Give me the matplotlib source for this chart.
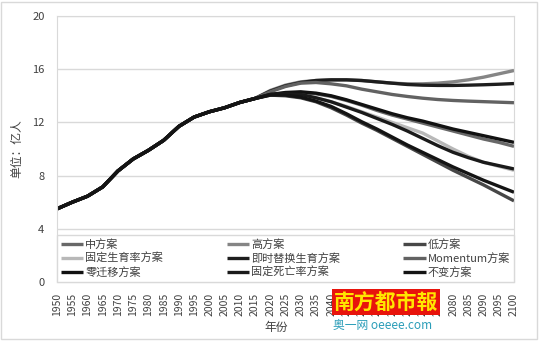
import matplotlib
matplotlib.use('Agg')
import matplotlib.pyplot as plt
from matplotlib.patches import Rectangle

plt.rcParams['font.family'] = ['Noto Sans CJK SC', 'DejaVu Sans']

# years shown on the axis (every 5 years)
years = list(range(1950, 2101, 5))

# shared history 1950-2010 (亿人)
hist = [5.5, 6.0, 6.45, 7.15, 8.35, 9.25, 9.9, 10.65, 11.7, 12.4, 12.8, 13.1, 13.5]

# projections 2015-2100
mid = [13.8, 14.1, 14.2, 14.25, 14.15, 13.95, 13.65, 13.3, 12.9, 12.55, 12.25, 11.95, 11.65, 11.35, 11.05, 10.75, 10.5, 10.2]
high = [13.8, 14.4, 14.8, 15.05, 15.15, 15.2, 15.2, 15.15, 15.05, 14.95, 14.9, 14.9, 14.95, 15.05, 15.2, 15.4, 15.65, 15.9]
low = [13.8, 14.05, 14.0, 13.85, 13.55, 13.1, 12.55, 11.95, 11.4, 10.8, 10.2, 9.6, 9.0, 8.4, 7.85, 7.3, 6.7, 6.1]
const_fert = [13.8, 14.1, 14.1, 14.05, 13.85, 13.55, 13.2, 12.8, 12.4, 12.0, 11.6, 11.2, 10.6, 10.0, 9.45, 9.0, 8.7, 8.4]
instant = [13.8, 14.35, 14.75, 15.0, 15.15, 15.2, 15.2, 15.15, 15.05, 14.95, 14.85, 14.8, 14.78, 14.78, 14.8, 14.83, 14.87, 14.92]
momentum = [13.8, 14.3, 14.7, 14.95, 15.0, 14.9, 14.75, 14.5, 14.3, 14.1, 13.95, 13.82, 13.72, 13.65, 13.6, 13.56, 13.52, 13.48]
zero_mig = [13.8, 14.1, 14.25, 14.3, 14.2, 14.0, 13.7, 13.35, 13.0, 12.65, 12.35, 12.1, 11.8, 11.5, 11.25, 11.0, 10.75, 10.5]
const_mort = [13.8, 14.1, 14.15, 14.1, 13.85, 13.55, 13.15, 12.75, 12.3, 11.85, 11.35, 10.8, 10.25, 9.75, 9.35, 9.0, 8.75, 8.5]
no_change = [13.8, 14.05, 14.05, 13.9, 13.6, 13.2, 12.65, 12.05, 11.5, 10.9, 10.3, 9.75, 9.2, 8.65, 8.15, 7.65, 7.2, 6.75]

labels = ['中方案', '高方案', '低方案', '固定生育率方案', '即时替换生育方案',
          'Momentum方案', '零迁移方案', '固定死亡率方案', '不变方案']
projections = [mid, high, low, const_fert, instant, momentum, zero_mig, const_mort, no_change]
colors = ['#686868', '#858585', '#474747', '#b8b8b8', '#1e1e1e',
          '#626262', '#111111', '#1a1a1a', '#141414']

fig = plt.figure(figsize=(5.4, 3.41), dpi=100)
ax = fig.add_axes([57 / 540, 1 - 282 / 341, 457 / 540, 266 / 341])

handles = []
for lab, proj, c in zip(labels, projections, colors):
    line, = ax.plot(years, hist + proj, color=c, lw=2.4, solid_capstyle='butt', label=lab)
    handles.append(line)

ax.set_xlim(1950, 2100)
ax.set_ylim(0, 20)
ax.set_yticks(range(0, 21, 4))
ax.set_xticks(years)
ax.set_xticklabels([str(y) for y in years], rotation=90)
ax.tick_params(length=0, labelsize=7.5, colors='#404040')
ax.tick_params(axis='y', labelsize=8, pad=9)
ax.tick_params(axis='x', pad=8)
ax.yaxis.grid(True, color='#d9d9d9', lw=1)
ax.set_axisbelow(True)
for s in ax.spines.values():
    s.set_color('#d9d9d9')

ax.set_ylabel('单位：亿人', fontsize=8.5, color='#404040', labelpad=6)
ax.set_xlabel('年份', fontsize=8.5, color='#404040', labelpad=2)
ax.xaxis.set_label_coords(0.48, -0.145)

# legend sits inside the plot between 0 and 4, filled row by row
order = [0, 3, 6, 1, 4, 7, 2, 5, 8]
leg = ax.legend([handles[i] for i in order], [labels[i] for i in order],
                ncol=3, loc='lower left', bbox_to_anchor=(0, 0, 1, 0.2), mode='expand',
                borderaxespad=0, fontsize=8, frameon=True, fancybox=False,
                framealpha=1, edgecolor='#d9d9d9', handlelength=2.0,
                handletextpad=0.2, labelspacing=0.3, borderpad=0.35)
leg.get_frame().set_linewidth(1)
for t in leg.get_texts():
    t.set_color('#404040')

# newspaper watermark (covers part of the year labels, as in the original)
fig.text(386 / 540, 1 - 302 / 341, '南方都市報', fontsize=15, color='#ffe600',
         fontweight='bold', ha='center', va='center', zorder=10,
         bbox=dict(facecolor='#e8140c', edgecolor='none', pad=1.5))
fig.text(383 / 540, 1 - 326 / 341, '奥一网 oeeee.com', fontsize=8.5, color='#2a9db8',
         ha='center', va='center')

# outer chart border
fig.patches.append(Rectangle((0.002, 0.005), 0.993, 0.99, transform=fig.transFigure,
                             fill=False, edgecolor='#d9d9d9', lw=1))

plt.savefig('out.png', dpi=100)
